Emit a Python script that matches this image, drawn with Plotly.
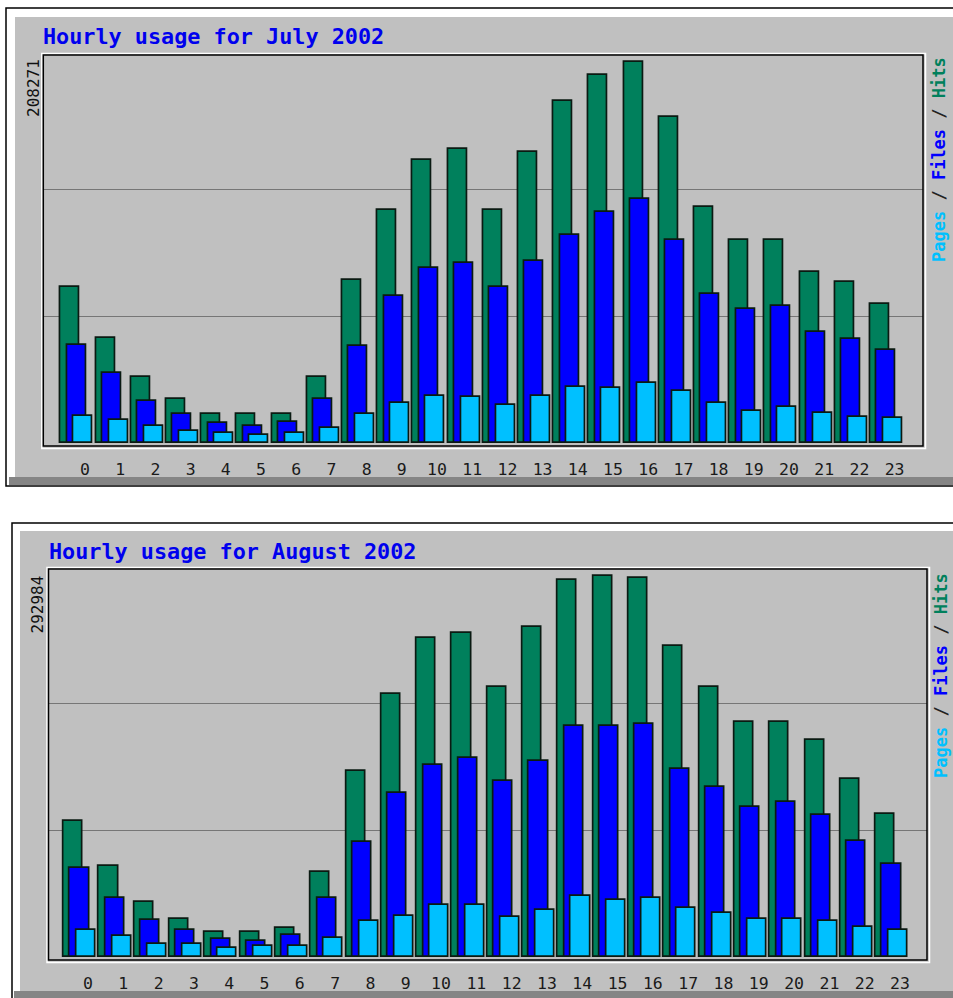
import plotly.graph_objects as go

hours = list(range(24))
hour_labels = [str(h) for h in hours]

july_hits = [85300, 57400, 36100, 24000, 15900, 15900, 15900, 36100, 89100, 127400, 154700, 160700,
             127400, 159100, 186900, 201200, 208271, 178200, 129000, 111000, 111000, 93500, 88000, 76000]
july_files = [53600, 38300, 23000, 15900, 10900, 9300, 11500, 24000, 53000, 80400, 95700, 98400,
              85300, 99500, 113700, 126300, 133400, 111000, 81400, 73200, 74900, 60700, 56800, 50800]
july_pages = [14800, 12600, 9300, 6600, 5500, 4400, 5500, 8200, 15900, 21900, 25700, 25100,
              20800, 25700, 30600, 30100, 32800, 28400, 21900, 17500, 19700, 16400, 14200, 13700]

aug_hits = [104900, 70200, 42400, 29300, 19300, 19300, 22400, 65500, 143400, 202000, 245200, 249000,
            207400, 253700, 289900, 292984, 291400, 239000, 207400, 180400, 180400, 166500, 136500, 110300]
aug_files = [68600, 45500, 28500, 20800, 13900, 12300, 17000, 45500, 88700, 126400, 148000, 153400,
             135700, 151100, 177300, 177300, 178900, 144200, 131100, 115600, 119500, 109500, 89400, 71700]
aug_pages = [20800, 16200, 10000, 10000, 6900, 8500, 8500, 14600, 27800, 31600, 40100, 40100,
             30800, 36200, 47000, 43900, 45500, 37800, 33900, 29300, 29300, 27800, 23100, 20800]

titles = ["Hourly usage for July 2002", "Hourly usage for August 2002"]

HITS_C = "#00805C"
FILES_C = "#0000FF"
PAGES_C = "#00C0FF"
GRAY = "#C0C0C0"

W, H = 953, 998


def xp(px):
    return px / W


def yp(py):
    return 1 - py / H


fig = go.Figure()

panels = [
    dict(data=(july_hits, july_files, july_pages), title=titles[0],
         frame=(43.3, 55, 923, 446), lab0=85, lab23=894.6,
         outer=(6, 8, 1000, 486), gray=(15, 17, 960, 477), strip=(9, 477, 960, 485),
         title_xy=(41, 36), ylab_xy=(33, 57), leg_xy=(939, 160)),
    dict(data=(aug_hits, aug_files, aug_pages), title=titles[1],
         frame=(48.5, 569, 927, 960), lab0=88, lab23=900,
         outer=(12, 523, 1000, 1010), gray=(20, 531, 960, 991), strip=(14, 991, 960, 1005),
         title_xy=(47, 551), ylab_xy=(36.5, 574), leg_xy=(941, 676)),
]

shapes = []
annotations = []
layout_axes = {}

for i, p in enumerate(panels):
    hits, files, pages = p["data"]
    ax = "" if i == 0 else str(i + 1)
    xa = "x" + ax
    ya = "y" + ax
    vmax = max(hits)
    step = (p["lab23"] - p["lab0"]) / 23.0
    x0, y0, x1, y1 = p["frame"]
    xr = [(x0 - p["lab0"]) / step, (x1 - p["lab0"]) / step]
    per_px = vmax / 381.0
    yr = [-3 * per_px, vmax + 7 * per_px]

    for vals, col, off in ((hits, HITS_C, -0.69), (files, FILES_C, -0.51), (pages, PAGES_C, -0.32)):
        fig.add_trace(go.Bar(
            x=hours, y=vals, xaxis=xa, yaxis=ya, offset=off, width=0.54,
            marker=dict(color=col, line=dict(color="#0A1A12", width=1.7)),
            showlegend=False, hoverinfo="x+y"))

    layout_axes["xaxis" + ax] = dict(
        domain=[xp(x0), xp(x1)], range=xr, anchor=ya, tickmode="array",
        tickvals=hours, ticktext=hour_labels, showgrid=False, zeroline=False,
        showline=False, ticks="outside", ticklen=8, tickcolor="rgba(0,0,0,0)",
        tickfont=dict(family="DejaVu Sans Mono", size=16.5, color="#1A1A1A"), fixedrange=True)
    layout_axes["yaxis" + ax] = dict(
        domain=[yp(y1), yp(y0)], range=yr, anchor=xa, tickmode="array",
        tickvals=[vmax / 3.0, 2 * vmax / 3.0], showticklabels=False, showgrid=True,
        gridcolor="#767676", gridwidth=1, zeroline=False, showline=False, fixedrange=True)

    # panel background
    ox0, oy0, ox1, oy1 = p["outer"]
    shapes.append(dict(type="rect", xref="paper", yref="paper", layer="below",
                       x0=xp(ox0), x1=xp(ox1), y0=yp(oy1), y1=yp(oy0),
                       fillcolor="white", line=dict(color="black", width=1.5)))
    gx0, gy0, gx1, gy1 = p["gray"]
    shapes.append(dict(type="rect", xref="paper", yref="paper", layer="below",
                       x0=xp(gx0), x1=xp(gx1), y0=yp(gy1), y1=yp(gy0),
                       fillcolor=GRAY, line=dict(width=0)))
    sx0, sy0, sx1, sy1 = p["strip"]
    shapes.append(dict(type="rect", xref="paper", yref="paper", layer="below",
                       x0=xp(sx0), x1=xp(sx1), y0=yp(sy1), y1=yp(sy0),
                       fillcolor="#858585", line=dict(width=0)))
    # plot frame: white bevel + black frame
    shapes.append(dict(type="rect", xref="paper", yref="paper", layer="above",
                       x0=xp(x0 - 1.5), x1=xp(x1 + 2.5), y0=yp(y1 + 2.5), y1=yp(y0 - 1.5),
                       fillcolor="rgba(0,0,0,0)", line=dict(color="white", width=1.5)))
    shapes.append(dict(type="rect", xref="paper", yref="paper", layer="above",
                       x0=xp(x0), x1=xp(x1), y0=yp(y1), y1=yp(y0),
                       fillcolor="rgba(0,0,0,0)", line=dict(color="black", width=1.5)))

    tx, ty = p["title_xy"]
    annotations.append(dict(xref="paper", yref="paper", x=xp(tx), y=yp(ty), xanchor="left",
                            yanchor="middle", showarrow=False, text="<b>%s</b>" % p["title"],
                            font=dict(family="DejaVu Sans Mono", size=21.8, color="#0000EE")))
    lx, ly = p["ylab_xy"]
    annotations.append(dict(xref="paper", yref="paper", x=xp(lx), y=yp(ly), xanchor="center",
                            yanchor="top", showarrow=False, textangle=-90, text=str(vmax),
                            font=dict(family="DejaVu Sans Mono", size=16, color="#111111")))
    gx, gy = p["leg_xy"]
    annotations.append(dict(
        xref="paper", yref="paper", x=xp(gx), y=yp(gy), xanchor="center", yanchor="middle",
        showarrow=False, textangle=-90,
        text=("<b><span style='color:%s'>Pages</span> / <span style='color:%s'>Files</span>"
              " / <span style='color:%s'>Hits</span></b>") % (PAGES_C, FILES_C, HITS_C),
        font=dict(family="DejaVu Sans Mono", size=17, color="#222222")))

fig.update_layout(
    width=W, height=H, margin=dict(l=0, r=0, t=0, b=0),
    paper_bgcolor="white", plot_bgcolor="rgba(0,0,0,0)",
    barmode="overlay", bargap=0, showlegend=False,
    shapes=shapes, annotations=annotations, **layout_axes)

fig.write_html("out.html", config={"displayModeBar": False},
               post_script="document.body.style.margin='0';document.body.style.overflow='hidden';")
